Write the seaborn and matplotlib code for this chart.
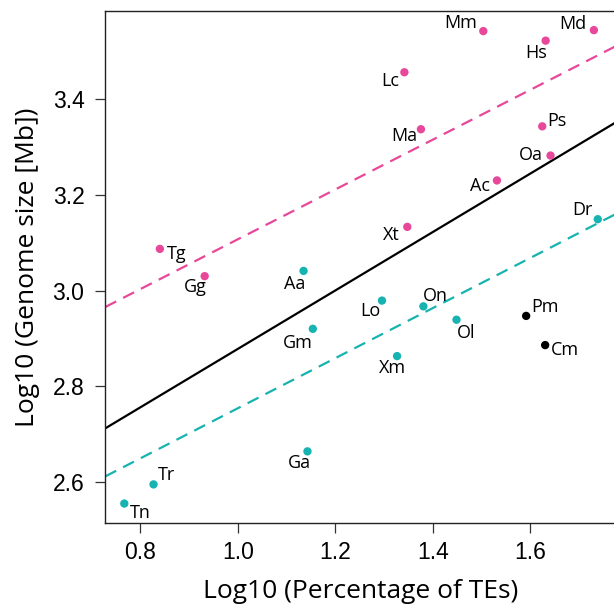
import matplotlib
matplotlib.use("Agg")
import matplotlib.pyplot as plt
import seaborn as sns
import pandas as pd

# species codes, log10(% TEs), log10(genome size), group
species = ["Mm", "Md", "Hs", "Lc", "Ma", "Ps", "Oa", "Ac", "Xt", "Tg", "Gg",
           "Dr", "Aa", "Lo", "On", "Ol", "Gm", "Xm", "Ga", "Tr", "Tn",
           "Pm", "Cm"]
log_te = [1.504, 1.731, 1.632, 1.342, 1.376, 1.625, 1.642, 1.532, 1.348, 0.840, 0.932,
          1.739, 1.135, 1.296, 1.381, 1.449, 1.154, 1.327, 1.143, 0.827, 0.767,
          1.592, 1.631]
log_gs = [3.542, 3.544, 3.522, 3.456, 3.337, 3.343, 3.282, 3.230, 3.133, 3.087, 3.030,
          3.149, 3.041, 2.979, 2.967, 2.939, 2.920, 2.863, 2.664, 2.595, 2.555,
          2.947, 2.886]
group = ["tetrapod"] * 11 + ["fish"] * 10 + ["other"] * 2

# label offsets in pixels (dx, dy), dy positive = up
label_dx = [-23, -21, -10, -14, -17, 15, -20, -17, -16, 17, -9,
            -15, -9, -12, 12, 10, -15, -5, -8, 13, 16,
            19, 20]
label_dy = [8, 6, -12, -9, -7, 5, 1, -6, -8, -5, -11,
            9, -13, -10, 10, -13, -14, -12, -12, 9, -9,
            9, -5]

# regression lines: (intercept, slope)
fit_all = (2.268, 0.610)
fit_tetrapod = (2.587, 0.520)
fit_fish = (2.231, 0.523)

pink = "#E8489A"
cyan = "#17B3B0"

df = pd.DataFrame({"sp": species, "x": log_te, "y": log_gs, "group": group})

sns.set_style("ticks")
plt.rcParams["font.family"] = ["Open Sans", "DejaVu Sans"]
plt.rcParams["text.color"] = "black"
plt.rcParams["axes.labelcolor"] = "black"
plt.rcParams["xtick.color"] = "black"
plt.rcParams["ytick.color"] = "black"

fig = plt.figure(figsize=(6.14, 6.07), dpi=100)
ax = fig.add_axes([0.1715, 0.1389, 0.833, 0.843])

ax.axline((0, fit_all[0]), slope=fit_all[1], color="black", lw=1.6, zorder=1)
ax.axline((0, fit_tetrapod[0]), slope=fit_tetrapod[1], color=pink, lw=1.6,
          dashes=(5.5, 3.5), zorder=1)
ax.axline((0, fit_fish[0]), slope=fit_fish[1], color=cyan, lw=1.6,
          dashes=(5.5, 3.5), zorder=1)

sns.scatterplot(data=df, x="x", y="y", hue="group",
                palette={"tetrapod": pink, "fish": cyan, "other": "black"},
                s=36, linewidth=0, legend=False, ax=ax, zorder=3)

for sp, x, y, dx, dy in zip(species, log_te, log_gs, label_dx, label_dy):
    ax.annotate(sp, (x, y), xytext=(dx, dy), textcoords="offset pixels",
                ha="center", va="center", fontsize=13, color="black")

ax.set_xlim(0.728, 1.778)
ax.set_ylim(2.515, 3.584)
ax.set_xticks([0.8, 1.0, 1.2, 1.4, 1.6])
ax.set_yticks([2.6, 2.8, 3.0, 3.2, 3.4])
ax.set_xticklabels(["0.8", "1.0", "1.2", "1.4", "1.6"], family="Liberation Sans", fontsize=16.5)
ax.set_yticklabels(["2.6", "2.8", "3.0", "3.2", "3.4"], family="Liberation Sans", fontsize=16.5)
ax.tick_params(length=7, width=0.9, color="#333333", pad=6)
ax.tick_params(axis="y", pad=8)
for s in ax.spines.values():
    s.set_linewidth(1.0)
    s.set_color("#222222")

ax.set_xlabel("Log10 (Percentage of TEs)", fontsize=19)
ax.set_ylabel("Log10 (Genome size [Mb])", fontsize=19)
ax.xaxis.set_label_coords(0.5, -0.11)
ax.yaxis.set_label_coords(-0.128, 0.5)

fig.savefig("out.png", dpi=100)
